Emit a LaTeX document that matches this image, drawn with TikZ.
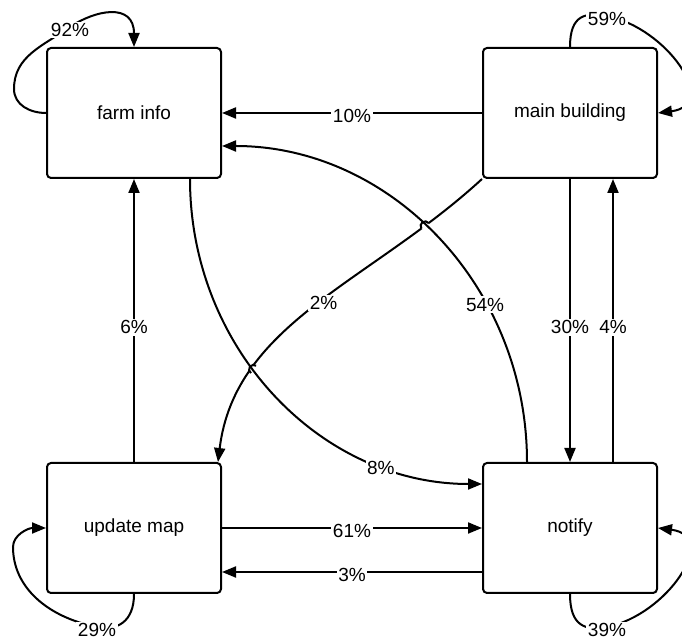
\documentclass[tikz,border=0pt]{standalone}
\usepackage{fontspec}
\setmainfont{Liberation Sans}
\usetikzlibrary{arrows.meta,intersections}
\begin{document}
\begin{tikzpicture}[x=1pt,y=1pt,
  box/.style={draw=black,line width=2pt,rounded corners=4pt,fill=white,
    minimum width=174pt,minimum height=130pt,inner sep=0pt,
    font=\fontsize{19}{22}\selectfont},
  conn/.style={line width=2pt,-{Triangle[length=14pt,width=11pt]}},
  plain/.style={line width=2pt},
  lbl/.style={fill=white,inner sep=1.5pt,yshift=-3pt,
    font=\fontsize{19}{22}\selectfont}
]
\clip (0,0) rectangle (682,644);

% states
\node[box] (fi) at (134,531) {farm info};
\node[box] (mb) at (570,531) {main building};
\node[box] (um) at (134,116) {update map};
\node[box] (nt) at (570,116) {notify};

% self loops
\draw[conn] (fi.west) .. controls +(-16,0) and +(0,-16) .. (14,555)
  .. controls +(0,33) and +(-27,-19) .. (70,617) node[lbl] (l92) {92\%}
  .. controls +(25,17) and +(0,45) .. (fi.north);
\draw[conn] (mb.north) .. controls +(0,32) and +(-22,4) .. (607,628)
  node[lbl] (l59) {59\%}
  .. controls +(60,-12) and +(62,8) .. (mb.east);
\draw[conn] (um.south) .. controls +(0,-28) and +(20,-4) .. (97,17)
  node[lbl] (l29) {29\%}
  .. controls +(-50,10) and +(0,-40) .. (13,97)
  .. controls +(0,12) and +(-18,0) .. (um.west);
\draw[conn] (nt.south) .. controls +(0,-32) and +(-22,-4) .. (607,17)
  node[lbl] (l39) {39\%}
  .. controls +(60,12) and +(62,-8) .. (nt.east);

% straight transitions
\draw[conn] (mb.west) -- node[lbl] (l10) {10\%} (fi.east);
\draw[conn] (um.east) -- node[lbl] (l61) {61\%} (nt.west);
\draw[conn] ([yshift=-44pt]nt.west) -- node[lbl] (l3) {3\%} ([yshift=-44pt]um.east);
\draw[conn] (um.north) -- node[lbl,pos=.486] (l6) {6\%} (fi.south);
\draw[conn] (mb.south) -- node[lbl,pos=.514] (l30) {30\%} (nt.north);
\draw[conn] ([xshift=43pt]nt.north) -- node[lbl,pos=.486] (l4) {4\%} ([xshift=43pt]mb.south);

% curved transitions
\draw[conn,name path=p54] ([xshift=-43pt]nt.north)
  .. controls +(0,175) and +(169,0) .. ([yshift=-33pt]fi.east)
  node[lbl,pos=.335] (l54) {54\%};
\draw[conn,name path=p8] ([xshift=56pt]fi.south)
  .. controls +(0,-169) and +(-162,0) .. ([yshift=44pt]nt.west)
  node[lbl,pos=.78] (l8) {8\%};

% main building -> update map, hopping over the two curves it crosses
\path[name path=p2] (mb.south west)
  .. controls +(-112,-103) and +(17,139) .. ([xshift=84pt]um.north);
\path[name intersections={of=p2 and p54,by=xa}];
\path[name intersections={of=p2 and p8,by=xb}];
\begin{scope}[even odd rule]
  \clip (0,0) rectangle (682,644)
    (xa) circle[radius=4.5] (xb) circle[radius=4.5];
  \draw[conn] (mb.south west)
    .. controls +(-112,-103) and +(17,139) .. ([xshift=84pt]um.north)
    node[lbl,pos=.47] (l2) {2\%};
\end{scope}
\draw[plain] (xa) ++(36:4.5) arc[start angle=36,end angle=216,radius=4.5];
\draw[plain] (xb) ++(55:4.5) arc[start angle=55,end angle=235,radius=4.5];
\end{tikzpicture}
\end{document}
